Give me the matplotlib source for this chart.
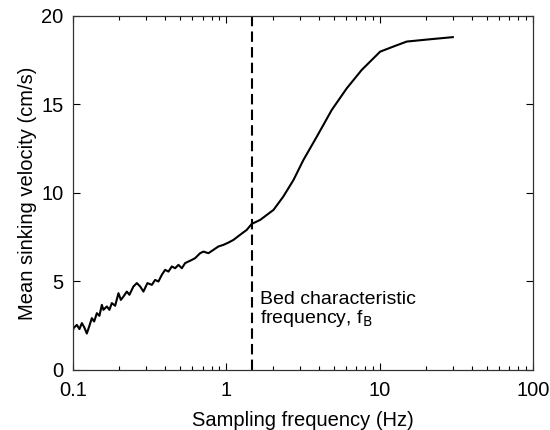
import matplotlib
matplotlib.use("Agg")
import matplotlib.pyplot as plt
from matplotlib.ticker import FixedLocator, LogLocator, NullFormatter

plt.rcParams['font.family'] = ['Liberation Sans', 'DejaVu Sans']

# Data (frequency in Hz, velocity in cm/s)
freq = [0.1, 0.1005, 0.1057, 0.1099, 0.1140, 0.1180, 0.1228, 0.1277, 0.1324,
        0.1371, 0.1428, 0.1484, 0.1539, 0.1576, 0.1659, 0.1725, 0.1788,
        0.1879, 0.1975, 0.2048, 0.2129, 0.2240, 0.2329, 0.2474, 0.2604,
        0.2736, 0.2874, 0.3052, 0.3261, 0.3427, 0.3601, 0.3790, 0.3983,
        0.4185, 0.4404, 0.4628, 0.4863, 0.5118, 0.5379, 0.5652, 0.5949,
        0.6251, 0.6739, 0.7079, 0.7632, 0.8228, 0.8869, 0.9559, 1.0306,
        1.1108, 1.2284, 1.3584, 1.4643, 1.5788, 1.66, 2.03, 2.35, 2.74,
        3.18, 3.89, 4.87, 6.10, 7.64, 10.07, 12.3, 15.0, 21.3, 30.0]
velocity = [2.25, 2.35, 2.54, 2.30, 2.64, 2.41, 2.05, 2.49, 2.92,
            2.73, 3.20, 3.05, 3.67, 3.39, 3.58, 3.39, 3.77,
            3.62, 4.33, 3.95, 4.14, 4.42, 4.24, 4.71, 4.90,
            4.71, 4.42, 4.90, 4.80, 5.08, 4.99, 5.37, 5.65,
            5.55, 5.84, 5.74, 5.93, 5.74, 6.03, 6.12, 6.21,
            6.31, 6.59, 6.68, 6.59, 6.78, 6.97, 7.06, 7.19,
            7.34, 7.63, 7.91, 8.25, 8.38, 8.47, 9.04, 9.79, 10.73,
            11.86, 13.18, 14.69, 15.91, 16.95, 17.98, 18.27, 18.55, 18.68, 18.80]

f_bed = 1.46
x_ticks = [0.1, 1, 10, 100]
x_tick_labels = ['0.1', '1', '10', '100']
y_ticks = [0, 5, 10, 15, 20]

fig = plt.figure(figsize=(5.5, 4.3), dpi=100)
ax = fig.add_axes([0.133, 0.14, 0.836, 0.823])

ax.plot(freq, velocity, color='black', linewidth=1.5)
ax.axvline(f_bed, color='black', linestyle=(0, (5, 2.5)), linewidth=1.5)

ax.set_xscale('log')
ax.set_xlim(0.1, 100)
ax.set_ylim(0, 20)
ax.xaxis.set_major_locator(FixedLocator(x_ticks))
ax.set_xticklabels(x_tick_labels)
ax.xaxis.set_minor_locator(LogLocator(base=10, subs=range(2, 10)))
ax.xaxis.set_minor_formatter(NullFormatter())
ax.set_yticks(y_ticks)

ax.tick_params(which='both', direction='in', top=True, right=True,
               labelsize=14.5, width=0.8)
ax.tick_params(which='major', length=5)
ax.tick_params(which='minor', length=3)
ax.tick_params(axis='x', which='major', pad=8)
ax.tick_params(axis='y', which='major', pad=7)
for s in ax.spines.values():
    s.set_linewidth(0.9)
    s.set_color('#333333')

ax.set_xlabel('Sampling frequency (Hz)', fontsize=14.5, labelpad=8)
ax.set_ylabel('Mean sinking velocity (cm/s)', fontsize=14.5, labelpad=3)

ax.text(1.65, 4.45, 'Bed characteristic\nfrequency, f$_\\mathrm{B}$',
        fontsize=14, ha='left', va='top', linespacing=1.0)

fig.savefig('out.png', dpi=100)
